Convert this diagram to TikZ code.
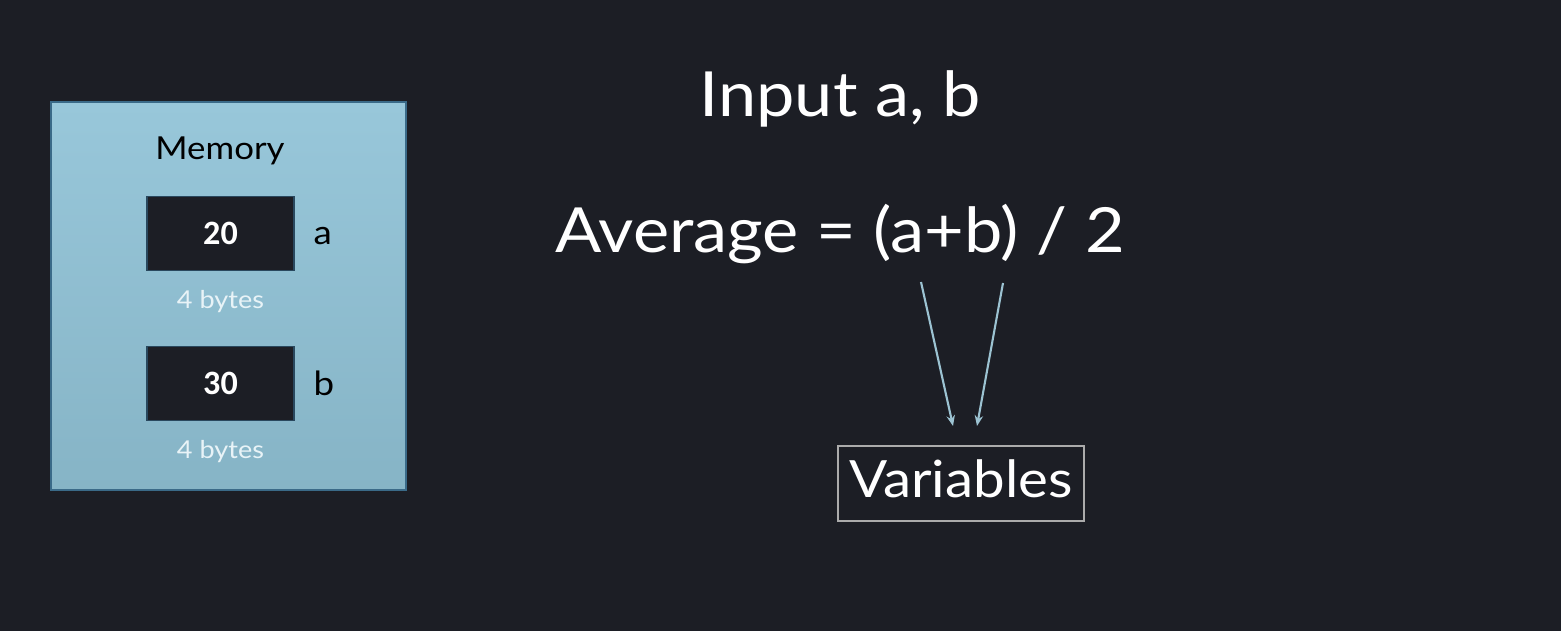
\documentclass[tikz,border=0pt]{standalone}
\usepackage{fontspec}
\setmainfont{Lato}[FakeStretch=1.1]
\newfontfamily\numfont{Carlito}
\usetikzlibrary{positioning, arrows.meta}

\definecolor{bgdark}{HTML}{1C1E25}
\definecolor{memtop}{HTML}{98C7DA}
\definecolor{membottom}{HTML}{86B4C6}
\definecolor{memedge}{HTML}{3A6A88}
\definecolor{celledge}{HTML}{29485E}
\definecolor{bytetext}{HTML}{E8F3F7}
\definecolor{arrowblue}{HTML}{9CC3D2}
\definecolor{boxgray}{HTML}{ABABAB}

\tikzset{
    cell/.style={draw=celledge, line width=0.5pt, fill=bgdark, text=white,
        minimum width=1.47cm, minimum height=0.74cm, inner sep=0pt,
        font=\numfont\bfseries\fontsize{9.7}{11}\selectfont},
    varname/.style={inner sep=0pt, text=black,
        font=\fontsize{9.5}{11}\selectfont},
    bytes/.style={inner sep=0pt, text=bytetext,
        font=\fontsize{7}{8}\selectfont},
    bigtext/.style={inner sep=0pt, text=white, anchor=base,
        font=\fontsize{17.7}{20}\selectfont},
    pointer/.style={draw=arrowblue, line width=0.6pt,
        -{Stealth[length=3pt, width=2.4pt]}}
}

\begin{document}
\begin{tikzpicture}[x=0.01cm, y=-0.01cm]
        \pgfmathsetmacro{\sizeX}{1561}
        \pgfmathsetmacro{\sizeY}{631}

        \fill[bgdark] (0, 0) rectangle (\sizeX, \sizeY);
        \useasboundingbox (0, 0) rectangle (\sizeX, \sizeY);

        % memory panel
        \node[draw=memedge, line width=0.6pt, top color=memtop,
            bottom color=membottom, minimum width=3.55cm,
            minimum height=3.88cm, inner sep=0pt] (mem) at (228.5, 296) {};
        \node[inner sep=0pt, anchor=base, text=black,
            font=\fontsize{9}{11}\selectfont] (memtitle) at (220, 160) {Memory};

        \node[cell] (cellA) at (220.5, 233.5) {20};
        \node[varname, right=0.18cm of cellA, yshift=-0.03cm] (nameA) {a};
        \node[bytes, below=0.18cm of cellA] (bytesA) {4 bytes};

        \node[cell] (cellB) at (220.5, 383.5) {30};
        \node[varname, right=0.18cm of cellB] (nameB) {b};
        \node[bytes, below=0.18cm of cellB] (bytesB) {4 bytes};

        % statements
        \node[bigtext] (input) at (840, 117) {Input a, b};
        \node[bigtext] (average) at (840, 253) {Average = (a+b) / 2};

        \node[draw=boxgray, line width=0.6pt, text=white, inner sep=0pt,
            minimum width=2.46cm, minimum height=0.75cm, text depth=0.1cm,
            font=\fontsize{14.6}{17}\selectfont] (vars) at (961, 483.5)
            {Variables};

        \coordinate (fromA) at (921, 282);
        \coordinate (fromB) at (1003, 283);
        \coordinate (toA) at (953, 426);
        \coordinate (toB) at (977, 426);

        \draw[pointer] (fromA) -- (toA);
        \draw[pointer] (fromB) -- (toB);

    \end{tikzpicture}
\end{document}
